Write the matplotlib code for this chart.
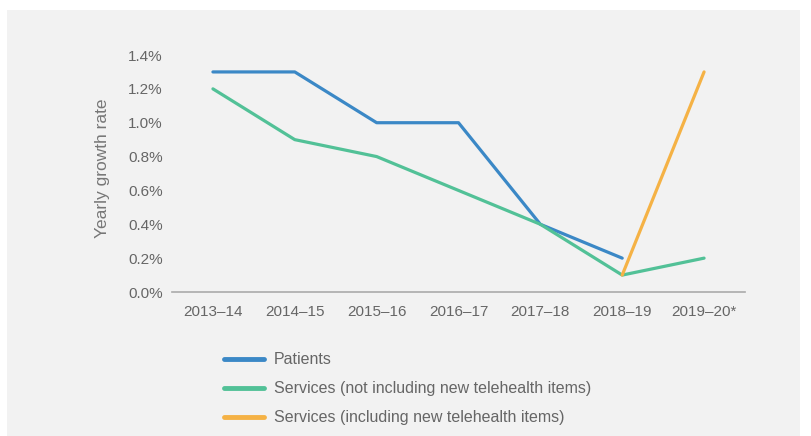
import matplotlib
matplotlib.use('Agg')
import matplotlib.pyplot as plt
from matplotlib.patches import Rectangle
import numpy as np

# yearly growth rate (%) by financial year
years = ['2013\u201314', '2014\u201315', '2015\u201316', '2016\u201317',
         '2017\u201318', '2018\u201319', '2019\u201320*']
patients = [1.3, 1.3, 1.0, 1.0, 0.4, 0.2]
services_excl = [1.2, 0.9, 0.8, 0.6, 0.4, 0.1, 0.2]
services_incl_years = ['2018\u201319', '2019\u201320*']
services_incl = [0.1, 1.3]

yticks = [0.0, 0.2, 0.4, 0.6, 0.8, 1.0, 1.2, 1.4]

plt.rcParams['font.family'] = ['Liberation Sans', 'DejaVu Sans']

W, H = 812, 436
fig = plt.figure(figsize=(W / 100, H / 100), dpi=100, facecolor='white')
fig.patches.append(Rectangle((7 / W, 0), 793 / W, 426 / H, transform=fig.transFigure,
                             facecolor='#f2f2f2', edgecolor='none', zorder=-10))

ax = fig.add_axes([172 / W, 1 - 292 / H, (745 - 172) / W, (292 - 55) / H])
ax.set_facecolor('none')

x = np.arange(len(years))
idx = {y: i for i, y in enumerate(years)}

ax.plot(x[:len(patients)], patients, color='#3b88c6', lw=2.3, label='Patients',
        solid_capstyle='round', solid_joinstyle='round', clip_on=False)
ax.plot(x, services_excl, color='#52c197', lw=2.3,
        label='Services (not including new telehealth items)',
        solid_capstyle='round', solid_joinstyle='round', clip_on=False)
ax.plot([idx[y] for y in services_incl_years], services_incl, color='#f5b245', lw=2.3,
        label='Services (including new telehealth items)',
        solid_capstyle='round', solid_joinstyle='round', clip_on=False)

ax.set_xlim(-0.5, 6.5)
ax.set_ylim(0, 1.4)
ax.set_xticks(x)
ax.set_xticklabels(years)
ax.set_yticks(yticks)
ax.set_yticklabels(['%.1f%%' % v for v in yticks])
ax.tick_params(length=0, labelsize=11, colors='#666666')
ax.tick_params(axis='x', pad=9)
ax.tick_params(axis='y', pad=6.5)

for s in ['top', 'right', 'left']:
    ax.spines[s].set_visible(False)
ax.spines['bottom'].set_color('#aaaaaa')
ax.spines['bottom'].set_linewidth(1.2)

ax.set_ylabel('Yearly growth rate', fontsize=12.5, color='#777777')
ax.yaxis.set_label_coords(-0.109, 0.522)

leg = ax.legend(loc='upper left', bbox_to_anchor=(218 / W, 1 - 346 / H),
                bbox_transform=fig.transFigure, frameon=False, fontsize=11.5,
                handlelength=2.5, handletextpad=0.6, labelspacing=0.87, borderaxespad=0)
for t in leg.get_texts():
    t.set_color('#666666')
for h in leg.get_lines():
    h.set_linewidth(3.5)

fig.savefig('out.png', dpi=100, facecolor=fig.get_facecolor())
